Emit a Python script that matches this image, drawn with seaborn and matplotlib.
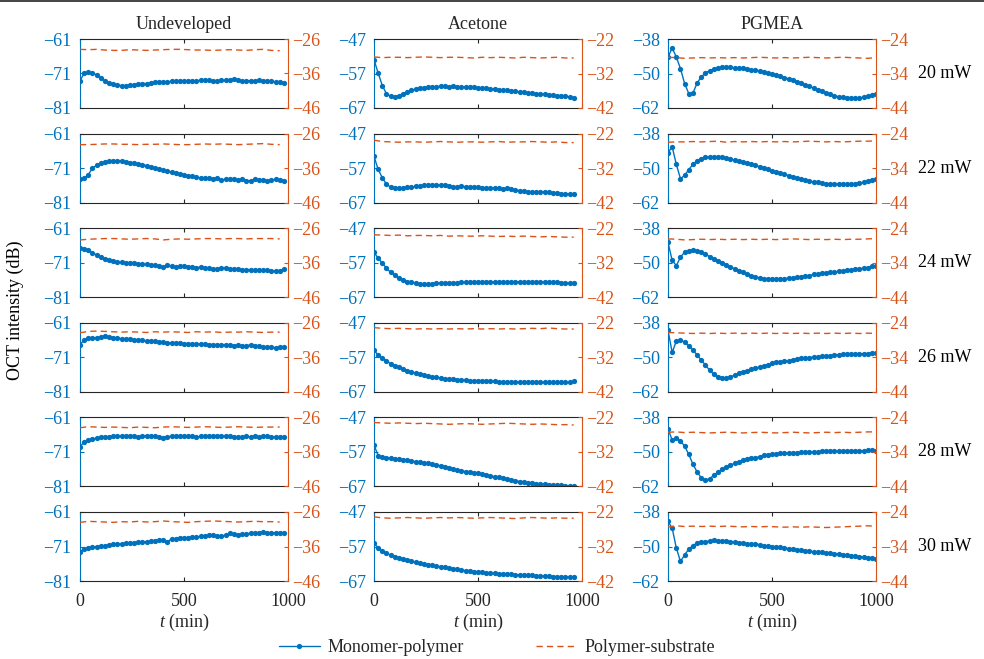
import numpy as np
import matplotlib
matplotlib.use("Agg")
import matplotlib.pyplot as plt
from matplotlib.lines import Line2D
import seaborn as sns

# ---------------------------------------------------------------- data
# time axes (min)
t_undeveloped = np.arange(0, 981, 20)
t_acetone = np.arange(0, 961, 20)
t_pgmea = np.arange(0, 1001, 20)
t_sub_undeveloped = np.arange(0, 961, 40)
t_sub_acetone = np.arange(0, 961, 40)
t_sub_pgmea = np.arange(0, 1001, 40)

columns = ["Undeveloped", "Acetone", "PGMEA"]
powers = ["20 mW", "22 mW", "24 mW", "26 mW", "28 mW", "30 mW"]

# monomer-polymer interface intensity (dB), undeveloped
undeveloped_20 = [-73.1, -70.9, -70.7, -70.9, -71.4, -72.4, -73.1, -73.8, -74.1, -74.4,
                  -74.5, -74.5, -74.4, -74.2, -74.1, -73.9, -73.9, -73.7, -73.6, -73.5,
                  -73.4, -73.4, -73.3, -73.2, -73.2, -73.1, -73.1, -73.1, -73.2, -72.9,
                  -72.9, -73.0, -73.1, -73.1, -73.0, -73.0, -72.8, -72.6, -73.0, -73.3,
                  -73.1, -73.1, -73.2, -73.0, -73.2, -73.3, -73.2, -73.4, -73.6, -73.8]
undeveloped_22 = [-74.2, -74.0, -72.9, -71.0, -70.2, -69.6, -69.2, -69.0, -68.9, -68.9,
                  -69.0, -69.2, -69.4, -69.6, -69.8, -70.0, -70.3, -70.7, -71.0, -71.2,
                  -71.5, -71.9, -72.2, -72.5, -72.7, -73.1, -73.3, -73.4, -73.6, -73.9,
                  -74.0, -73.9, -74.1, -73.9, -74.5, -74.2, -74.3, -74.1, -74.4, -74.2,
                  -74.6, -74.7, -74.3, -74.5, -74.4, -74.6, -74.5, -74.3, -74.4, -74.6]
undeveloped_24 = [-66.7, -66.9, -67.4, -68.1, -68.8, -69.3, -69.8, -70.3, -70.6, -70.8,
                  -70.9, -71.0, -71.1, -71.2, -71.3, -71.4, -71.5, -71.7, -71.8, -72.0,
                  -72.3, -71.8, -72.0, -72.2, -72.1, -72.1, -72.3, -72.2, -72.4, -72.3,
                  -72.5, -72.6, -72.8, -72.7, -72.6, -72.6, -72.7, -72.8, -72.9, -73.0,
                  -73.0, -73.0, -73.1, -73.1, -73.2, -73.1, -73.4, -73.5, -73.4, -72.8]
undeveloped_26 = [-67.3, -66.0, -65.4, -65.3, -65.3, -65.1, -64.9, -65.1, -65.3, -65.4,
                  -65.6, -65.6, -65.8, -65.9, -66.0, -66.1, -66.3, -66.4, -66.4, -66.6,
                  -66.6, -66.8, -66.8, -66.9, -66.9, -67.0, -67.0, -67.1, -67.1, -67.2,
                  -67.2, -67.3, -67.3, -67.4, -67.4, -67.3, -67.4, -67.6, -67.5, -67.7,
                  -67.6, -67.4, -67.6, -67.7, -68.0, -68.1, -68.1, -68.2, -68.1, -68.0]
undeveloped_28 = [-69.5, -68.1, -67.6, -67.3, -67.0, -66.8, -66.7, -66.6, -66.5, -66.5,
                  -66.4, -66.4, -66.4, -66.5, -66.6, -66.4, -66.3, -66.3, -66.4, -66.6,
                  -66.9, -66.6, -66.5, -66.4, -66.3, -66.3, -66.3, -66.5, -66.7, -66.5,
                  -66.4, -66.3, -66.3, -66.3, -66.4, -66.5, -66.5, -66.6, -66.7, -66.6,
                  -66.4, -66.7, -66.5, -66.7, -66.5, -66.4, -66.6, -66.8, -66.7, -66.7]
undeveloped_30 = [-72.5, -71.7, -71.4, -71.2, -71.0, -70.9, -70.8, -70.5, -70.4, -70.3,
                  -70.2, -70.1, -70.0, -69.9, -69.8, -69.7, -69.6, -69.5, -69.4, -69.2,
                  -69.0, -69.6, -68.8, -68.7, -68.6, -68.5, -68.4, -68.3, -68.2, -68.1,
                  -68.0, -67.8, -67.8, -67.9, -67.9, -67.8, -67.2, -67.4, -67.6, -67.4,
                  -67.3, -67.2, -67.1, -67.0, -66.9, -67.0, -67.1, -67.0, -67.1, -67.0]

# monomer-polymer interface intensity (dB), acetone
acetone_20 = [-53.0, -56.9, -60.5, -62.9, -63.6, -63.7, -63.4, -62.8, -62.4, -61.9,
              -61.5, -61.2, -61.1, -61.0, -60.9, -60.8, -60.7, -60.7, -60.8, -60.7,
              -60.8, -60.9, -60.9, -61.0, -61.0, -61.2, -61.2, -61.3, -61.5, -61.5,
              -61.7, -61.8, -61.9, -62.1, -62.2, -62.3, -62.4, -62.6, -62.7, -62.8,
              -62.9, -63.0, -63.2, -63.3, -63.4, -63.4, -63.5, -63.8, -64.2]
acetone_22 = [-53.6, -57.4, -59.8, -61.7, -62.5, -62.7, -62.7, -62.7, -62.6, -62.5,
              -62.3, -62.1, -62.0, -62.0, -62.0, -62.0, -61.9, -61.9, -62.1, -62.4,
              -62.4, -62.3, -62.4, -62.5, -62.5, -62.5, -62.7, -62.7, -62.8, -62.7,
              -62.9, -63.1, -62.9, -63.2, -63.4, -63.5, -63.7, -63.8, -64.0, -64.0,
              -63.9, -63.8, -63.9, -64.1, -64.3, -64.4, -64.5, -64.6, -64.6]
acetone_24 = [-54.0, -55.7, -57.1, -58.6, -59.8, -60.7, -61.5, -62.1, -62.5, -62.7,
              -62.9, -63.1, -63.2, -63.2, -63.1, -63.0, -63.0, -62.9, -62.8, -62.8,
              -62.8, -62.7, -62.7, -62.7, -62.7, -62.7, -62.6, -62.7, -62.7, -62.6,
              -62.6, -62.7, -62.7, -62.7, -62.6, -62.6, -62.7, -62.7, -62.7, -62.7,
              -62.7, -62.7, -62.7, -62.7, -62.7, -62.8, -62.9, -62.9, -62.9]
acetone_26 = [-54.9, -56.4, -57.3, -58.1, -58.8, -59.4, -59.9, -60.4, -60.9, -61.3,
              -61.6, -61.9, -62.2, -62.5, -62.7, -62.8, -63.0, -63.2, -63.3, -63.4,
              -63.5, -63.6, -63.7, -63.8, -63.8, -63.9, -63.9, -64.0, -64.0, -64.0,
              -64.1, -64.1, -64.1, -64.2, -64.1, -64.2, -64.2, -64.2, -64.3, -64.2,
              -64.3, -64.3, -64.2, -64.3, -64.3, -64.2, -64.3, -64.3, -64.0]
acetone_28 = [-55.0, -58.1, -58.6, -58.7, -58.9, -59.0, -59.1, -59.3, -59.4, -59.7,
              -59.8, -59.9, -60.1, -60.3, -60.5, -60.8, -61.0, -61.3, -61.6, -61.9,
              -62.2, -62.4, -62.7, -62.8, -63.0, -63.2, -63.4, -63.7, -63.9, -64.2,
              -64.4, -64.7, -64.9, -65.1, -65.3, -65.6, -65.7, -65.9, -66.0, -66.2,
              -66.3, -66.4, -66.5, -66.6, -66.7, -66.7, -66.8, -66.8, -66.9]
acetone_30 = [-56.0, -57.4, -58.4, -59.0, -59.5, -59.9, -60.3, -60.7, -61.0, -61.3,
              -61.6, -61.9, -62.1, -62.3, -62.5, -62.7, -62.8, -63.0, -63.2, -63.4,
              -63.6, -63.8, -64.0, -64.2, -64.3, -64.4, -64.5, -64.6, -64.7, -64.8,
              -64.9, -65.0, -65.0, -65.1, -65.2, -65.2, -65.3, -65.4, -65.4, -65.5,
              -65.5, -65.6, -65.6, -65.7, -65.7, -65.8, -65.8, -65.9, -65.9]

# monomer-polymer interface intensity (dB), PGMEA
pgmea_20 = [-44.4, -41.1, -44.3, -48.3, -53.5, -57.0, -56.8, -53.3, -51.2, -49.8,
            -49.0, -48.4, -48.1, -47.9, -47.9, -47.9, -48.0, -48.1, -48.2, -48.4,
            -48.7, -48.9, -49.2, -49.6, -49.9, -50.3, -50.6, -51.0, -51.4, -51.9,
            -52.4, -53.0, -53.4, -54.0, -54.5, -55.0, -55.6, -56.2, -56.8, -57.2,
            -57.7, -58.1, -58.3, -58.5, -58.5, -58.5, -58.5, -58.2, -57.9, -57.5,
            -57.0]
pgmea_22 = [-44.6, -42.6, -48.7, -53.7, -52.5, -50.5, -48.7, -47.4, -46.7, -46.3,
            -46.1, -46.1, -46.2, -46.3, -46.6, -46.8, -47.2, -47.5, -47.9, -48.2,
            -48.7, -49.0, -49.5, -49.9, -50.4, -50.9, -51.3, -51.8, -52.1, -52.6,
            -53.0, -53.4, -53.8, -54.1, -54.5, -54.8, -55.0, -55.3, -55.4, -55.5,
            -55.5, -55.5, -55.4, -55.5, -55.4, -55.4, -55.2, -54.9, -54.5, -54.0,
            -53.8]
pgmea_24 = [-42.9, -49.2, -51.0, -48.1, -46.3, -45.9, -45.5, -45.8, -46.3, -47.0,
            -47.9, -48.6, -49.4, -50.1, -50.8, -51.4, -52.1, -52.8, -53.4, -54.0,
            -54.5, -54.9, -55.3, -55.5, -55.6, -55.7, -55.7, -55.6, -55.5, -55.4,
            -55.2, -55.0, -54.8, -54.6, -54.5, -54.1, -53.9, -53.7, -53.5, -53.4,
            -53.2, -53.0, -52.8, -52.6, -52.5, -52.3, -52.1, -51.9, -51.7, -51.3,
            -51.1]
pgmea_26 = [-40.6, -48.3, -44.4, -44.0, -44.7, -46.1, -47.5, -49.2, -51.0, -52.7,
            -54.5, -55.9, -56.7, -57.1, -57.2, -56.8, -56.2, -55.6, -55.0, -54.6,
            -54.1, -53.8, -53.3, -53.0, -52.6, -52.1, -51.8, -51.6, -51.4, -51.2,
            -50.8, -50.5, -50.4, -50.3, -50.1, -49.9, -49.8, -49.6, -49.5, -49.4,
            -49.2, -49.1, -49.0, -49.0, -48.9, -48.9, -48.8, -48.7, -48.7, -48.4,
            -48.4]
pgmea_28 = [-41.9, -45.9, -45.1, -46.2, -48.0, -50.9, -54.3, -57.0, -59.0, -59.8,
            -59.3, -58.2, -57.0, -56.1, -55.3, -54.6, -54.0, -53.4, -52.8, -52.4,
            -52.0, -52.0, -51.7, -51.2, -51.0, -50.8, -50.6, -50.5, -50.5, -50.4,
            -50.4, -50.3, -50.2, -50.1, -50.1, -50.0, -50.0, -49.8, -49.8, -49.8,
            -49.8, -49.8, -49.7, -49.7, -49.7, -49.7, -49.6, -49.6, -49.5, -49.5,
            -49.6]
pgmea_30 = [-41.3, -43.6, -50.5, -55.2, -52.9, -50.9, -49.7, -48.8, -48.4, -48.3,
            -48.1, -47.9, -48.0, -48.1, -48.2, -48.4, -48.5, -48.7, -48.8, -49.0,
            -49.3, -49.0, -49.4, -49.7, -49.9, -50.0, -50.2, -50.3, -50.5, -50.7,
            -50.9, -51.1, -51.2, -51.5, -51.6, -51.8, -51.9, -52.0, -52.2, -52.4,
            -52.6, -52.7, -52.8, -53.0, -53.2, -53.3, -53.5, -53.6, -53.9, -54.0,
            -54.2]

# polymer-substrate interface intensity (dB)
sub_undeveloped_20 = [-29.0, -29.1, -29.0, -29.2, -29.3, -29.3, -29.1, -29.2, -29.3, -29.2,
                      -29.1, -29.0, -29.0, -29.1, -29.2, -29.2, -29.3, -29.2, -29.1, -29.2,
                      -29.3, -29.1, -29.0, -29.3, -29.4]
sub_undeveloped_22 = [-29.2, -29.2, -29.1, -29.0, -29.0, -29.1, -29.1, -29.2, -29.1, -29.1,
                      -29.0, -29.1, -29.2, -29.2, -29.1, -29.0, -29.1, -29.0, -29.1, -29.2,
                      -29.1, -29.0, -28.9, -29.1, -29.2]
sub_undeveloped_24 = [-29.4, -29.2, -29.1, -29.0, -29.0, -29.1, -29.2, -29.1, -29.0, -29.1,
                      -29.4, -29.2, -29.1, -29.2, -29.1, -29.0, -29.0, -29.1, -29.0, -29.0,
                      -29.1, -29.0, -29.0, -29.0, -29.1]
sub_undeveloped_26 = [-28.9, -28.5, -28.4, -28.5, -28.6, -28.7, -28.6, -28.7, -28.8, -28.6,
                      -28.7, -28.6, -28.7, -28.8, -28.6, -28.7, -28.6, -28.8, -28.7, -28.7,
                      -28.6, -28.7, -28.8, -28.7, -28.7]
sub_undeveloped_28 = [-29.0, -28.7, -28.8, -28.9, -28.8, -28.9, -29.0, -28.8, -28.9, -29.0,
                      -28.8, -28.7, -28.8, -28.9, -28.8, -28.7, -28.8, -28.9, -28.8, -28.7,
                      -28.8, -28.9, -28.8, -28.8, -28.8]
sub_undeveloped_30 = [-29.0, -28.7, -28.8, -28.9, -29.0, -28.8, -28.9, -28.7, -28.9, -28.8,
                      -28.6, -28.8, -28.9, -29.0, -28.8, -28.7, -28.6, -28.7, -28.8, -28.9,
                      -28.8, -28.7, -28.8, -28.8, -28.9]

sub_acetone_20 = [-27.2, -27.4, -27.3, -27.3, -27.4, -27.3, -27.2, -27.3, -27.4, -27.3,
                  -27.3, -27.4, -27.5, -27.3, -27.4, -27.3, -27.4, -27.5, -27.3, -27.4,
                  -27.5, -27.4, -27.3, -27.5, -27.5]
sub_acetone_22 = [-23.9, -24.3, -24.4, -24.5, -24.4, -24.4, -24.5, -24.4, -24.3, -24.4,
                  -24.5, -24.4, -24.4, -24.5, -24.4, -24.3, -24.5, -24.4, -24.4, -24.3,
                  -24.4, -24.5, -24.4, -24.6, -24.6]
sub_acetone_24 = [-23.9, -24.0, -24.1, -24.0, -24.2, -24.1, -24.1, -24.2, -24.1, -24.3,
                  -24.2, -24.3, -24.3, -24.2, -24.3, -24.4, -24.3, -24.4, -24.3, -24.4,
                  -24.5, -24.4, -24.5, -24.6, -24.6]
sub_acetone_26 = [-23.4, -23.6, -23.7, -23.6, -23.7, -23.8, -23.7, -23.8, -23.7, -23.8,
                  -23.7, -23.8, -23.7, -23.8, -23.7, -23.8, -23.7, -23.8, -23.7, -23.6,
                  -23.7, -23.5, -23.7, -23.8, -23.8]
sub_acetone_28 = [-23.5, -23.6, -23.7, -23.6, -23.7, -23.8, -23.7, -23.8, -23.9, -24.0,
                  -23.9, -23.8, -23.9, -24.0, -23.9, -23.8, -23.7, -23.8, -23.9, -24.0,
                  -23.9, -24.0, -24.1, -24.1, -24.2]
sub_acetone_30 = [-23.4, -23.7, -23.8, -23.7, -23.6, -23.7, -23.8, -23.7, -23.6, -23.7,
                  -23.6, -23.7, -23.8, -23.7, -23.6, -23.7, -23.8, -23.9, -23.7, -23.6,
                  -23.7, -23.8, -23.7, -23.8, -23.8]

sub_pgmea_20 = [-29.3, -29.4, -29.6, -29.5, -29.4, -29.5, -29.4, -29.5, -29.4, -29.5,
                -29.4, -29.3, -29.4, -29.5, -29.4, -29.5, -29.4, -29.3, -29.4, -29.5,
                -29.4, -29.3, -29.4, -29.5, -29.6, -29.4]
sub_pgmea_22 = [-26.5, -26.4, -26.4, -26.3, -26.4, -26.3, -26.2, -26.5, -26.3, -26.4,
                -26.3, -26.4, -26.3, -26.4, -26.3, -26.4, -26.3, -26.2, -26.3, -26.4,
                -26.3, -26.4, -26.3, -26.2, -26.2, -26.1]
sub_pgmea_24 = [-27.1, -27.2, -27.4, -27.3, -27.2, -27.3, -27.2, -27.3, -27.2, -27.3,
                -27.2, -27.3, -27.2, -27.3, -27.2, -27.1, -27.2, -27.3, -27.2, -27.3,
                -27.2, -27.3, -27.2, -27.2, -27.1, -27.0]
sub_pgmea_26 = [-26.8, -26.9, -27.0, -27.1, -27.0, -27.1, -27.0, -27.1, -27.0, -27.1,
                -27.0, -27.1, -27.0, -27.1, -27.0, -27.1, -27.0, -27.1, -27.0, -27.1,
                -27.0, -27.1, -27.0, -27.1, -27.0, -27.1]
sub_pgmea_28 = [-28.3, -28.2, -28.4, -28.3, -28.4, -28.5, -28.4, -28.3, -28.4, -28.5,
                -28.4, -28.3, -28.4, -28.5, -28.4, -28.3, -28.4, -28.5, -28.4, -28.3,
                -28.4, -28.3, -28.4, -28.3, -28.2, -28.2]
sub_pgmea_30 = [-28.4, -28.0, -28.2, -28.1, -28.2, -28.1, -28.2, -28.1, -28.2, -28.3,
                -28.2, -28.3, -28.2, -28.3, -28.4, -28.3, -28.4, -28.3, -28.4, -28.5,
                -28.4, -28.3, -28.2, -28.1, -28.0, -28.1]

# axis ranges and ticks per developer column
left_ticks = [[-81, -71, -61], [-67, -57, -47], [-62, -50, -38]]
right_ticks = [[-46, -36, -26], [-42, -32, -22], [-44, -34, -24]]
x_ticks = [0, 500, 1000]

# ---------------------------------------------------------------- style
sns.set_theme(style="white")
plt.rcParams["font.family"] = ["Liberation Serif", "DejaVu Serif"]
plt.rcParams["mathtext.fontset"] = "custom"
plt.rcParams["mathtext.it"] = "Liberation Serif:italic"
plt.rcParams["mathtext.rm"] = "Liberation Serif"
plt.rcParams["axes.unicode_minus"] = True

BLUE = "#0072BD"
ORANGE = "#D95319"
INK = "#262626"
FS = 13

W, H = 984, 659
fig = plt.figure(figsize=(W / 100, H / 100), dpi=100)

col_left = [80, 374, 668]
col_width = 208
row_top = [39, 133.6, 228.2, 322.8, 417.4, 512]
row_height = 69

mono = [
    [undeveloped_20, acetone_20, pgmea_20],
    [undeveloped_22, acetone_22, pgmea_22],
    [undeveloped_24, acetone_24, pgmea_24],
    [undeveloped_26, acetone_26, pgmea_26],
    [undeveloped_28, acetone_28, pgmea_28],
    [undeveloped_30, acetone_30, pgmea_30],
]
sub = [
    [sub_undeveloped_20, sub_acetone_20, sub_pgmea_20],
    [sub_undeveloped_22, sub_acetone_22, sub_pgmea_22],
    [sub_undeveloped_24, sub_acetone_24, sub_pgmea_24],
    [sub_undeveloped_26, sub_acetone_26, sub_pgmea_26],
    [sub_undeveloped_28, sub_acetone_28, sub_pgmea_28],
    [sub_undeveloped_30, sub_acetone_30, sub_pgmea_30],
]
t_mono = [t_undeveloped, t_acetone, t_pgmea]
t_sub = [t_sub_undeveloped, t_sub_acetone, t_sub_pgmea]

legend_handles = None
for r in range(6):
    for c in range(3):
        x0 = col_left[c] / W
        y0 = 1 - (row_top[r] + row_height) / H
        ax = fig.add_axes([x0, y0, col_width / W, row_height / H])
        ax2 = ax.twinx()

        sns.lineplot(x=t_mono[c], y=mono[r][c], ax=ax, color=BLUE, marker="o",
                     markersize=3.8, markeredgewidth=0, linewidth=1.0, legend=False)
        sns.lineplot(x=t_sub[c], y=sub[r][c], ax=ax2, color=ORANGE, linewidth=1.0,
                     legend=False)
        ax2.lines[0].set_dashes((4.5, 3.0))

        ax.set_xlim(0, 1000)
        ax.set_ylim(left_ticks[c][0], left_ticks[c][-1])
        ax2.set_ylim(right_ticks[c][0], right_ticks[c][-1])
        ax.set_yticks(left_ticks[c])
        ax2.set_yticks(right_ticks[c])
        ax.set_xticks(x_ticks)
        ax.set_ylabel("")
        ax2.set_ylabel("")

        for s in ("top", "bottom"):
            ax.spines[s].set_color(INK)
            ax.spines[s].set_linewidth(0.8)
            ax2.spines[s].set_visible(False)
        ax.spines["left"].set_color(BLUE)
        ax.spines["left"].set_linewidth(0.8)
        ax.spines["right"].set_visible(False)
        ax2.spines["left"].set_visible(False)
        ax2.spines["right"].set_color(ORANGE)
        ax2.spines["right"].set_linewidth(0.8)

        ax.tick_params(axis="y", colors=BLUE, direction="in", length=3,
                       width=0.8, labelsize=FS, pad=6, left=True)
        ax2.tick_params(axis="y", colors=ORANGE, direction="in", length=3,
                        width=0.8, labelsize=FS, pad=3, right=True)
        ax.tick_params(axis="x", color=INK, labelcolor=INK, direction="in",
                       length=3, width=0.8, labelsize=FS, pad=9,
                       bottom=True, top=True, labelbottom=(r == 5))

        if r == 0:
            ax.set_title(columns[c], fontsize=FS, color=INK, pad=7)
        if r == 5:
            ax.set_xlabel("$t$ (min)", fontsize=FS, color=INK, labelpad=1)
        else:
            ax.set_xlabel("")
        if c == 2:
            fig.text(918 / W, 1 - (row_top[r] + row_height / 2) / H, powers[r],
                     fontsize=FS, color="black", ha="left", va="center")
        if legend_handles is None:
            legend_handles = [ax.lines[0], ax2.lines[0]]

fig.text(15 / W, 1 - 310 / H, "OCT intensity (dB)", rotation=90, fontsize=FS,
         color="black", ha="center", va="center")

fig.legend(legend_handles, ["Monomer-polymer", "Polymer-substrate"],
           loc="center", bbox_to_anchor=(0.505, 1 - 648 / H), ncol=2,
           frameon=False, fontsize=FS, handlelength=2.3, handletextpad=0.4,
           columnspacing=4.0, labelcolor=INK)

# thin rule along the top edge
fig.add_artist(Line2D([0, 1], [1 - 0.8 / H, 1 - 0.8 / H], transform=fig.transFigure,
                      color="#222222", linewidth=1.2))

fig.savefig("out.png", dpi=100)
